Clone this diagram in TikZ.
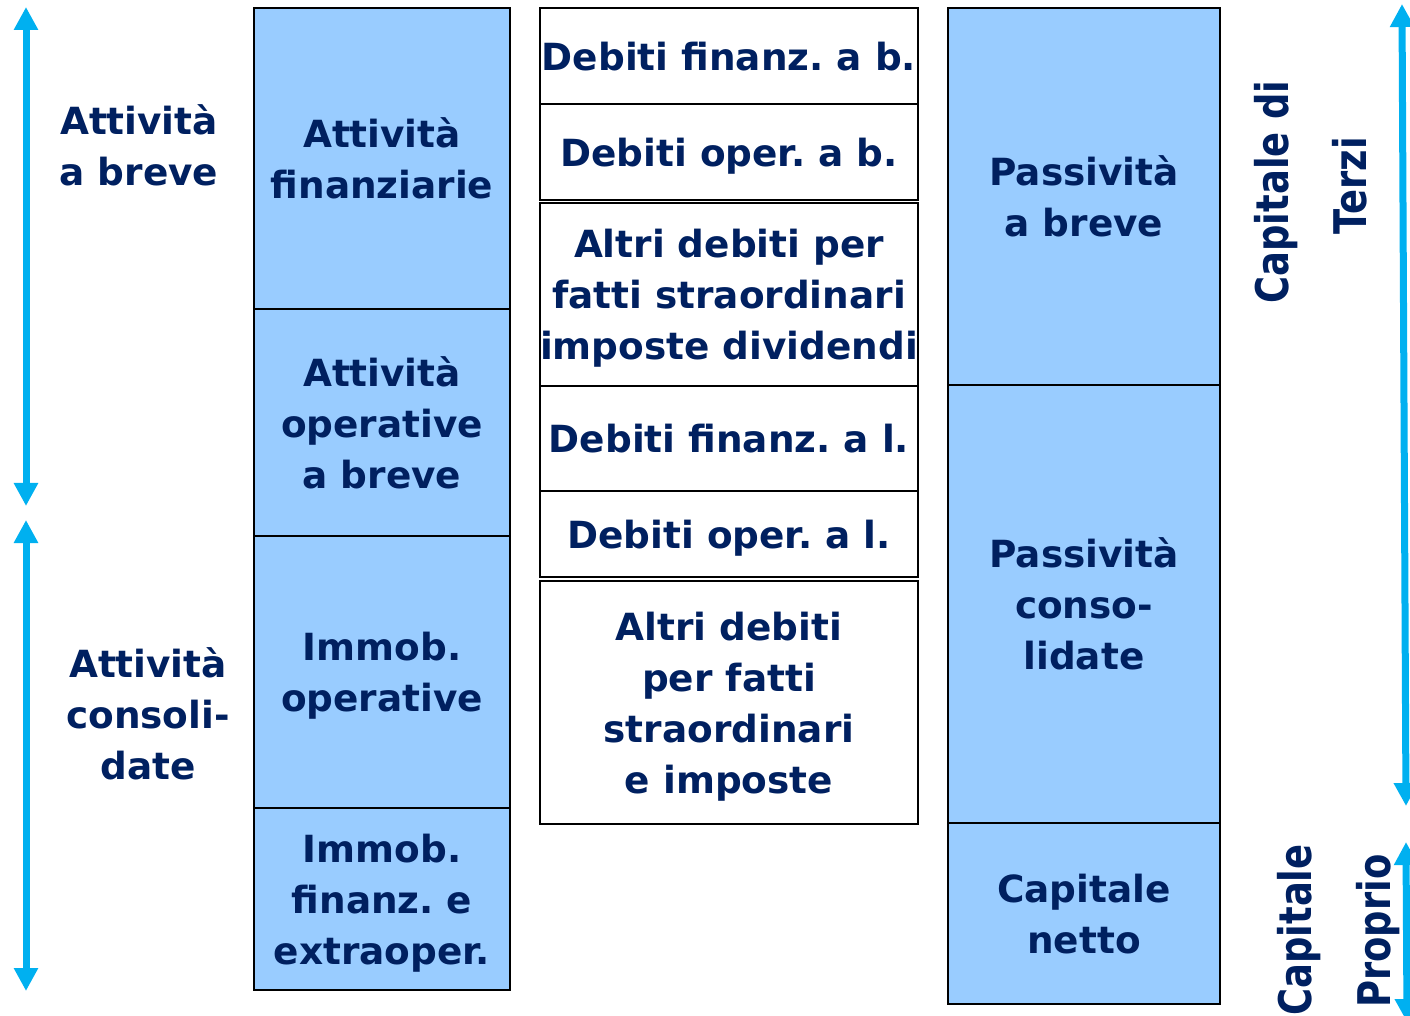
\documentclass[tikz,border=0pt]{standalone}
\usepackage{fontspec}
\setmainfont{DejaVu Sans}
\usepackage{xcolor}
\usetikzlibrary{positioning,arrows.meta}
\definecolor{bsnavy}{RGB}{0, 32, 96}
\definecolor{bsfill}{RGB}{153, 204, 255}
\definecolor{bsarrow}{RGB}{0, 176, 240}
\frenchspacing

\begin{document}
\begin{tikzpicture}[x=0.5pt, y=-0.5pt,
    box/.style={draw=black, line width=1.4pt, outer sep=0pt, inner sep=0pt, align=center, text=bsnavy, font=\fontsize{18.7}{25.5}\selectfont\bfseries, text depth=-2pt},
    bluebox/.style={box, fill=bsfill},
    side/.style={text=bsnavy, align=center, inner sep=0pt, font=\fontsize{18.7}{25.5}\selectfont\bfseries},
    vert/.style={text=bsnavy, rotate=90, inner sep=0pt, font=\fontsize{22.5}{27}\selectfont\bfseries},
    arr/.style={draw=bsarrow, line width=3.5pt, {Triangle[width=11.5pt,length=11.5pt]}-{Triangle[width=11.5pt,length=11.5pt]}}]
    \useasboundingbox (0,0) rectangle (1410,1016);
    \clip (0,0) rectangle (1410,1016);

    % Impieghi
    \node[bluebox, minimum width=128pt, minimum height=150.5pt, anchor=north west] (fin) at (254,8) {Attività\\finanziarie};
    \node[bluebox, minimum width=128pt, minimum height=113.5pt, below=0pt of fin] (opbreve) {Attività\\operative\\a breve};
    \node[bluebox, minimum width=128pt, minimum height=136pt, below=0pt of opbreve] (immop) {Immob.\\operative};
    \node[bluebox, minimum width=128pt, minimum height=91pt, below=0pt of immop] (immfin) {Immob.\\finanz. e\\extraoper.};

    % Debiti
    \node[box, minimum width=189pt, minimum height=48pt, anchor=north west] (dfb) at (540,8) {Debiti finanz. a b.};
    \node[box, minimum width=189pt, minimum height=48pt, below=0pt of dfb] (dob) {Debiti oper. a b.};
    \node[box, minimum width=189pt, minimum height=91.5pt, below=1.5pt of dob] (altrib) {Altri debiti per\\fatti straordinari\\imposte dividendi};
    \node[box, minimum width=189pt, minimum height=52.5pt, below=0pt of altrib] (dfl) {Debiti finanz. a l.};
    \node[box, minimum width=189pt, minimum height=43pt, below=0pt of dfl] (dol) {Debiti oper. a l.};
    \node[box, minimum width=189pt, minimum height=121.5pt, below=2pt of dol] (altril) {Altri debiti\\per fatti\\straordinari\\e imposte};

    % Fonti
    \node[bluebox, minimum width=136pt, minimum height=188.5pt, anchor=north west] (pbreve) at (948,8) {Passività\\a breve};
    \node[bluebox, minimum width=136pt, minimum height=219pt, below=0pt of pbreve] (pcons) {Passività\\conso-\\lidate};
    \node[bluebox, minimum width=136pt, minimum height=90.5pt, below=0pt of pcons] (netto) {Capitale\\netto};

    % Etichette laterali
    \node[side] (labbreve) at (139,145) {Attività\\a breve};
    \node[side] (labcons) at (148,714) {Attività\\consoli-\\date};
    \node[vert] (terzia) at (1276,192) {\scalebox{0.82}[1]{Capitale di}};
    \node[vert] (terzib) at (1350,186) {\scalebox{0.82}[1]{Terzi}};
    \node[vert] (propria) at (1299,930) {\scalebox{0.82}[1]{Capitale}};
    \node[vert] (proprib) at (1378,931) {\scalebox{0.82}[1]{Proprio}};

    % Frecce
    \coordinate (brevetop) at (26,7);
    \coordinate (brevebot) at (26,506);
    \coordinate (constop) at (26,520);
    \coordinate (consbot) at (26,991);
    \coordinate (terzitop) at (1402,4);
    \coordinate (terzibot) at (1406,806);
    \coordinate (proprtop) at (1406,842);
    \coordinate (proprbot) at (1407,1022);
    \draw[arr] (brevetop) -- (brevebot);
    \draw[arr] (constop) -- (consbot);
    \draw[arr] (terzitop) -- (terzibot);
    \draw[arr] (proprtop) -- (proprbot);
\end{tikzpicture}
\end{document}
